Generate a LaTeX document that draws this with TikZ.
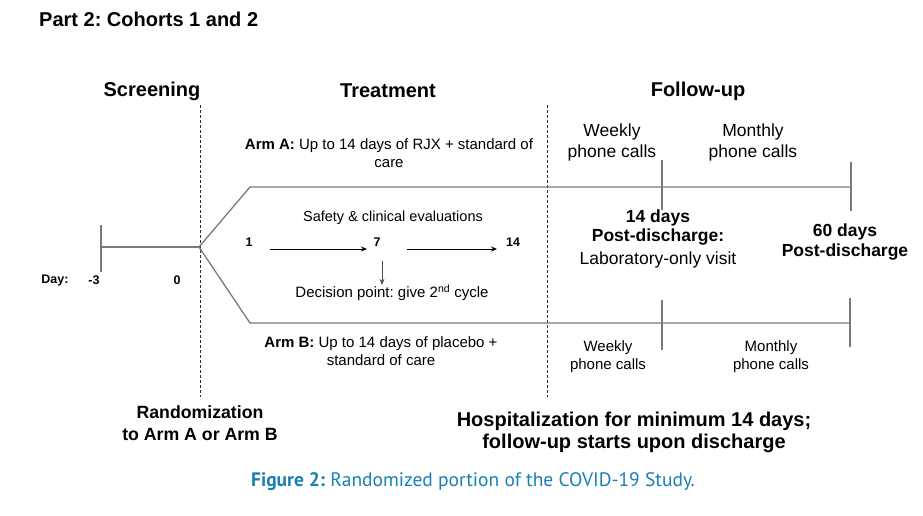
\documentclass[tikz,border=0pt]{standalone}
\usepackage{fontspec}
\setmainfont{Liberation Sans}
\newfontfamily\capfont{PT Sans}
\usetikzlibrary{arrows.meta}
\definecolor{capblue}{HTML}{1A80B3}
\definecolor{tlgray}{HTML}{7A7A7A}
\frenchspacing
\tikzset{
  txt/.style={inner sep=0pt, align=center},
  head/.style={txt, font=\fontsize{20}{24}\selectfont\bfseries},
  tl/.style={draw=tlgray, line width=1.3pt},
  divider/.style={draw=black!80, line width=0.9pt, dash pattern=on 3pt off 2pt},
  arr/.style={draw=black, line width=0.9pt, -{Stealth[length=6pt,width=5pt]}},
  darr/.style={draw=black!70, line width=0.9pt, -{Stealth[length=6pt,width=5pt]}},
}
\begin{document}
\begin{tikzpicture}[x=1pt,y=-1pt]
\useasboundingbox (0,0) rectangle (923,515);
% title
\node[txt, anchor=west, font=\fontsize{20}{24}\selectfont\bfseries] (title) at (39,19) {Part 2: Cohorts 1 and 2};
% headers
\node[head] (scr) at (152,91) {Screening};
\node[head] (trt) at (388,91) {Treatment};
\node[head] (fup) at (698,91) {Follow-up};
% dividers
\coordinate (d1t) at (200,105); \coordinate (d1b) at (200,397);
\coordinate (d2t) at (547,105); \coordinate (d2b) at (547,397);
\draw[divider] (d1t) -- (d1b);
\draw[divider] (d2t) -- (d2b);
% timeline
\coordinate (m3t) at (101,225); \coordinate (m3b) at (101,272);
\coordinate (m3) at (101,247); \coordinate (fork) at (199,247);
\coordinate (ua) at (250,187); \coordinate (ue) at (851,187);
\coordinate (la) at (250,323); \coordinate (le) at (850,323);
\draw[tl] (m3t) -- (m3b);
\draw[tl] (m3) -- (fork);
\draw[tl] (fork) -- (ua) -- (ue);
\draw[tl] (fork) -- (la) -- (le);
\coordinate (u1t) at (662,160); \coordinate (u1b) at (662,210);
\coordinate (u2t) at (851,162); \coordinate (u2b) at (851,211);
\coordinate (l1t) at (662,300); \coordinate (l1b) at (662,350);
\coordinate (l2t) at (850,298); \coordinate (l2b) at (850,347);
\draw[tl] (u1t) -- (u1b);
\draw[tl] (u2t) -- (u2b);
\draw[tl] (l1t) -- (l1b);
\draw[tl] (l2t) -- (l2b);
% day labels
\node[txt, font=\fontsize{12.5}{15}\selectfont\bfseries] (day) at (55,280) {Day:};
\node[txt, font=\fontsize{12.5}{15}\selectfont\bfseries] (dm3) at (94,280) {-3};
\node[txt, font=\fontsize{12.5}{15}\selectfont\bfseries] (d0) at (177,280) {0};
% arm A
\node[txt, font=\fontsize{15}{18}\selectfont] (armA) at (389,153) {\textbf{Arm A:} Up to 14 days of RJX + standard of\\care};
\node[txt, font=\fontsize{14.5}{17}\selectfont] (safety) at (393,218) {Safety \& clinical evaluations};
\node[txt, font=\fontsize{12.5}{15}\selectfont\bfseries] (t1) at (249,242) {1};
\node[txt, font=\fontsize{12.5}{15}\selectfont\bfseries] (t7) at (377,242) {7};
\node[txt, font=\fontsize{12.5}{15}\selectfont\bfseries] (t14) at (513,242) {14};
\coordinate (a1s) at (270,249); \coordinate (a1e) at (367,249);
\coordinate (a2s) at (407,249); \coordinate (a2e) at (497,249);
\coordinate (dns) at (382,261);
\draw[arr] (a1s) -- (a1e);
\draw[arr] (a2s) -- (a2e);
\node[txt, font=\fontsize{15}{18}\selectfont] (dec) at (392,293) {Decision point: give 2\textsuperscript{nd} cycle};
\draw[darr] (dns) -- (dns |- dec.north);
% arm B
\node[txt, font=\fontsize{15}{18}\selectfont] (armB) at (381,351) {\textbf{Arm B:} Up to 14 days of placebo +\\standard of care};
% follow-up upper
\node[txt, font=\fontsize{17.5}{21}\selectfont] (wk1) at (612,142.5) {Weekly\\phone calls};
\node[txt, font=\fontsize{17.5}{21}\selectfont] (mo1) at (753,142.5) {Monthly\\phone calls};
\node[txt, font=\fontsize{17.5}{19}\selectfont\bfseries] (d14) at (658,227.5) {14 days\\Post-discharge:};
\node[txt, font=\fontsize{17.5}{21}\selectfont] (lab) at (658,260) {Laboratory-only visit};
\node[txt, font=\fontsize{17.5}{20}\selectfont\bfseries] (d60) at (845,242) {60 days\\Post-discharge};
% follow-up lower
\node[txt, font=\fontsize{15}{18}\selectfont] (wk2) at (608,357) {Weekly\\phone calls};
\node[txt, font=\fontsize{15}{18}\selectfont] (mo2) at (771,357) {Monthly\\phone calls};
% bottom notes
\node[txt, font=\fontsize{17.7}{22}\selectfont\bfseries] (rand) at (200,423) {Randomization\\to Arm A or Arm B};
\node[txt, font=\fontsize{20}{22}\selectfont\bfseries] (hosp) at (634,432) {Hospitalization for minimum 14 days;\\follow-up starts upon discharge};
% caption
\node[txt, text=capblue, font=\capfont\fontsize{19.5}{23}\selectfont] (cap) at (473,482) {\textbf{Figure 2:} Randomized portion of the COVID-19 Study.};
\end{tikzpicture}
\end{document}
